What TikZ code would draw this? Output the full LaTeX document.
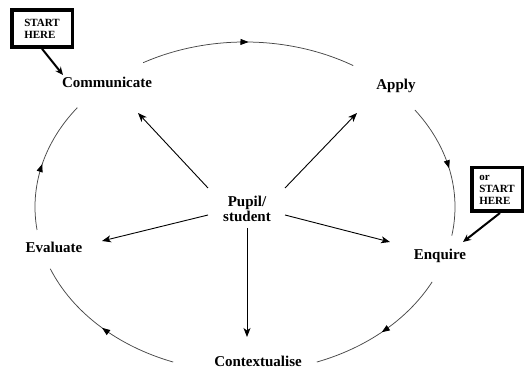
\documentclass[tikz,border=0pt]{standalone}
\usepackage{fontspec}
\setmainfont{Liberation Serif}
\usetikzlibrary{arrows.meta,decorations.markings,calc}
\begin{document}
\begin{tikzpicture}[x=1pt,y=1pt,
  lbl/.style={font=\fontsize{15}{15}\selectfont\bfseries, anchor=base, inner sep=0pt},
  cyc/.style={draw=black!72, line width=0.75pt, postaction={decorate},
    decoration={markings, mark=at position 0.5 with {\arrow[black]{Triangle[length=8pt,width=6pt]}}}},
  rad/.style={draw=black, line width=0.9pt, -{Stealth[length=9pt,width=7pt,inset=2.5pt]}},
  startbox/.style={draw=black, line width=3.5pt, align=left, font=\fontsize{11}{12}\selectfont\bfseries, inner sep=0pt, minimum width=60.5pt, minimum height=37pt},
  startarr/.style={draw=black, line width=2pt, -{Stealth[length=8pt,width=7pt]}}
]
\useasboundingbox (0,0) rectangle (525,369);
\coordinate (O) at (245,162);

% cycle arcs
\draw[cyc] (O) ++(119:210pt and 165pt) arc[start angle=119, end angle=59, x radius=210pt, y radius=165pt];
\draw[cyc] (O) ++(36:210pt and 165pt) arc[start angle=36, end angle=-10, x radius=210pt, y radius=165pt];
\draw[cyc] (O) ++(-27:210pt and 165pt) arc[start angle=-27, end angle=-70, x radius=210pt, y radius=165pt];
\draw[cyc] (O) ++(-110:210pt and 165pt) arc[start angle=-110, end angle=-158, x radius=210pt, y radius=165pt];
\draw[cyc] (O) ++(-172:210pt and 165pt) arc[start angle=-172, end angle=-217, x radius=210pt, y radius=165pt];

% labels
\node[lbl] (comm) at (107,281) {Communicate};
\node[lbl] (apply) at (396,279) {Apply};
\node[lbl] (enq) at (440,109) {Enquire};
\node[lbl] (eval) at (54,116) {Evaluate};
\node[lbl] (ctx) at (258,2) {Contextualise};
\node[lbl, anchor=center, align=center, font=\fontsize{15}{14.5}\selectfont\bfseries] (pupil) at (247,160) {Pupil/\\student};

% arrow tips
\coordinate (commtip) at (138,256);
\coordinate (applytip) at (357,256);
\coordinate (evaltip) at (102,128);
\coordinate (enqtip) at (390,127);
\coordinate (ctxtip) at (247,32);

\draw[rad] ($(pupil.center)+(-39,21)$) -- (commtip);
\draw[rad] ($(pupil.center)+(38,21)$) -- (applytip);
\draw[rad] ($(pupil.center)+(-39,-6)$) -- (evaltip);
\draw[rad] ($(pupil.center)+(38,-6)$) -- (enqtip);
\draw[rad] ($(pupil.center)+(0,-19)$) -- (ctxtip);

% start boxes
\node[startbox] (s1) at (42,340.5) {START\\HERE};
\node[startbox, minimum width=50.5pt, minimum height=43.5pt] (s2) at (497,179.5) {or\\START\\HERE};
\coordinate (s1tip) at (63,294);
\coordinate (s2tip) at (463,127);
\draw[startarr] (s1.south) -- (s1tip);
\draw[startarr] ($(s2.south)+(3,0)$) -- (s2tip);
\end{tikzpicture}
\end{document}
